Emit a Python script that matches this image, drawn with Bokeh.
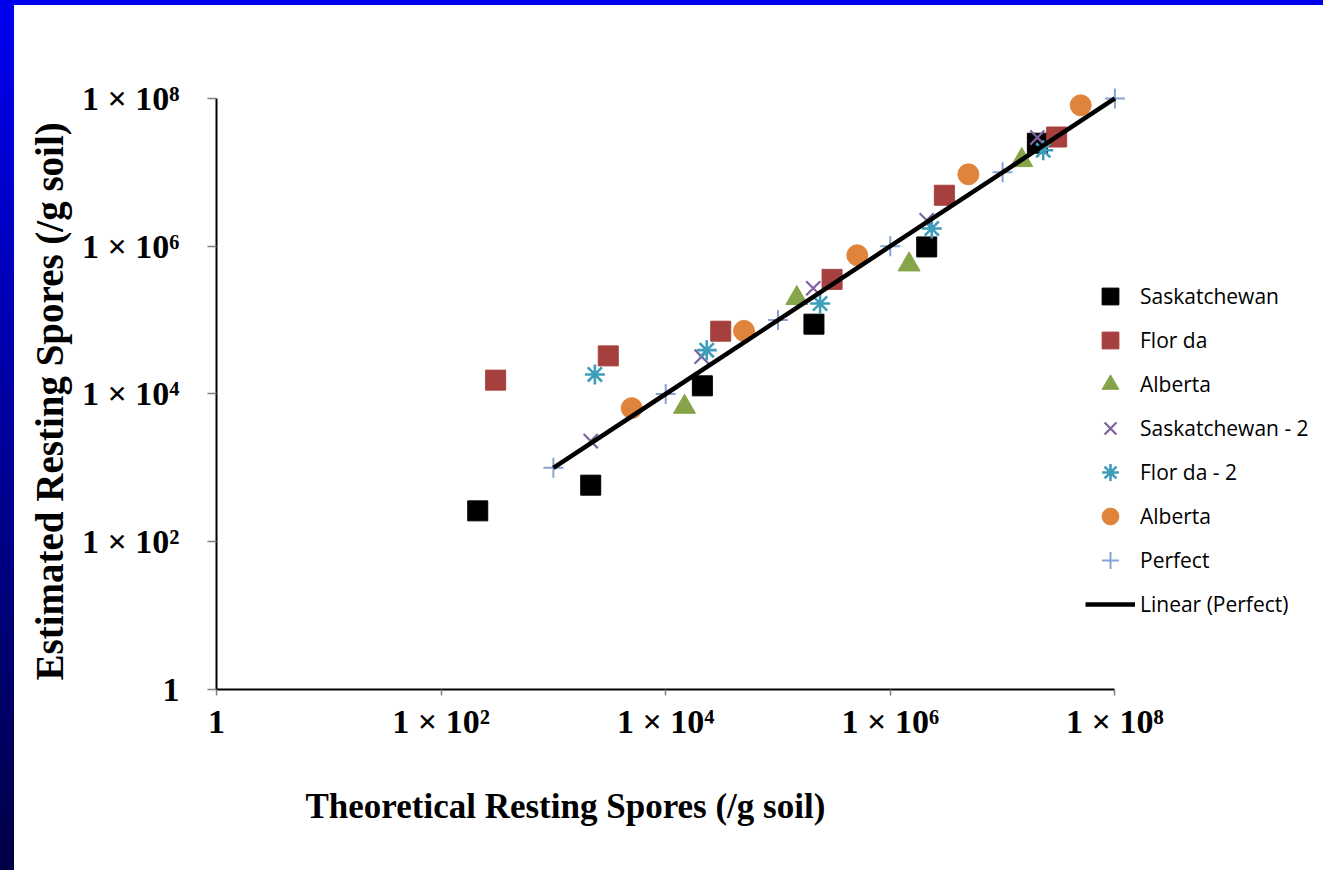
from bokeh.plotting import figure
from bokeh.models import FixedTicker, Legend, LegendItem, Div, Title
from bokeh.layouts import column, row
from bokeh.embed import file_html
from bokeh.resources import INLINE

# ---- data ----
sask_x = [212, 2150, 21200, 209000, 2110000, 20400000]
sask_y = [262, 583, 12900, 88100, 979000, 24800000]

flor_x = [306, 3080, 30900, 303000, 3030000, 30300000]
flor_y = [15400, 32800, 70800, 356000, 4900000, 30100000]

alb_x = [14700, 147000, 1470000, 14800000]
alb_y = [6680, 198000, 565000, 14600000]

sask2_x = [2150, 20900, 206000, 2110000, 20400000]
sask2_y = [2300, 32000, 270000, 2250000, 29600000]

flor2_x = [2340, 23200, 237000, 2340000, 23000000]
flor2_y = [18400, 39200, 168000, 1740000, 19900000]

alb2_x = [4980, 49800, 508000, 4960000, 49600000]
alb2_y = [6430, 71500, 755000, 9420000, 80900000]

perfect_x = [1e3, 1e4, 1e5, 1e6, 1e7, 1e8]
perfect_y = [1e3, 1e4, 1e5, 1e6, 1e7, 1e8]

tick_values = [1, 1e2, 1e4, 1e6, 1e8]
tick_labels = ["1", "1 \u00d7 10\u00b2", "1 \u00d7 10\u2074", "1 \u00d7 10\u2076", "1 \u00d7 10\u2078"]

series_names = ["Saskatchewan", "Flor da", "Alberta", "Saskatchewan - 2",
                "Flor da - 2", "Alberta", "Perfect", "Linear (Perfect)"]

x_title = "Theoretical Resting Spores (/g soil)"
y_title = "Estimated Resting Spores (/g soil)"

SERIF = "Liberation Serif"

# layout geometry (pixels)
FIG_W, FIG_H = 1309, 865
LEFT, BOTTOM = 202, 181
EXTRA_TOP = 20                  # frame extends a little above 1e8 so markers are not clipped
TOP = 93 - EXTRA_TOP
FRAME_W = FIG_W - LEFT          # frame reaches the right edge (room for legend)
DECADE_PX_X = 112.3
DECADE_PX_Y = 73.9
x_end = 10 ** (FRAME_W / DECADE_PX_X)
y_end = 10 ** (8 + EXTRA_TOP / DECADE_PX_Y)

p = figure(width=FIG_W, height=FIG_H, x_axis_type="log", y_axis_type="log",
           x_range=(1, x_end), y_range=(1, y_end),
           output_backend="svg", toolbar_location=None,
           min_border_left=LEFT, min_border_right=0,
           min_border_top=TOP, min_border_bottom=BOTTOM)
p.background_fill_color = "white"
p.border_fill_color = "white"
p.outline_line_color = None
p.grid.visible = False

for ax in (p.xaxis[0], p.yaxis[0]):
    ax.ticker = FixedTicker(ticks=tick_values)
    ax.major_label_overrides = {v: l for v, l in zip(tick_values, tick_labels)}
    ax.minor_tick_line_color = None
    ax.axis_line_color = "black"
    ax.axis_line_width = 2
    ax.major_tick_line_color = "#808080"
    ax.major_tick_line_width = 1.5
    ax.major_tick_in = 0
    ax.major_label_text_font = SERIF
    ax.major_label_text_font_style = "bold"
    ax.major_label_text_font_size = "34px"
    ax.major_label_text_color = "black"
    ax.bounds = (1, 1e8)

p.xaxis[0].major_tick_out = 6
p.xaxis[0].major_label_standoff = 7
p.yaxis[0].major_tick_out = 9
p.yaxis[0].major_label_standoff = 28

r_sask = p.scatter(sask_x, sask_y, marker="square", size=20,
                   fill_color="black", line_color="black")
r_flor = p.scatter(flor_x, flor_y, marker="square", size=20,
                   fill_color="#A5403E", line_color="#A5403E")
r_alb = p.scatter(alb_x, alb_y, marker="triangle", size=22,
                  fill_color="#86A44A", line_color="#86A44A")
r_sask2 = p.scatter(sask2_x, sask2_y, marker="x", size=20, line_width=2.2,
                    line_color="#7E62A0")
r_flor2 = p.scatter(flor2_x, flor2_y, marker="asterisk", size=20, line_width=2.6,
                    line_color="#3E9DB8")
r_alb2 = p.scatter(alb2_x, alb2_y, marker="circle", size=21,
                   fill_color="#E0843C", line_color="#E0843C")
r_perf = p.scatter(perfect_x, perfect_y, marker="cross", size=20, line_width=2,
                   line_color="#85A3D3")
r_lin = p.line(perfect_x, perfect_y, line_color="black", line_width=4.5)

legend = Legend(items=[
    LegendItem(label=series_names[0], renderers=[r_sask]),
    LegendItem(label=series_names[1], renderers=[r_flor]),
    LegendItem(label=series_names[2], renderers=[r_alb]),
    LegendItem(label=series_names[3], renderers=[r_sask2]),
    LegendItem(label=series_names[4], renderers=[r_flor2]),
    LegendItem(label=series_names[5], renderers=[r_alb2]),
    LegendItem(label=series_names[6], renderers=[r_perf]),
    LegendItem(label=series_names[7], renderers=[r_lin]),
], location=(869, 64))
legend.glyph_width = 50
legend.glyph_height = 42
legend.label_height = 42
legend.spacing = 2
legend.padding = 0
legend.margin = 0
legend.label_standoff = 5
legend.border_line_color = None
legend.background_fill_alpha = 0
legend.label_text_font = "Open Sans"
legend.label_text_font_size = "21px"
legend.label_text_color = "black"
p.add_layout(legend, "center")

xt = Title(text=x_title, align="left", offset=89, standoff=85,
           text_font=SERIF, text_font_style="bold", text_font_size="35px",
           text_color="black")
yt = Title(text=y_title, align="left", offset=9, standoff=16,
           text_font=SERIF, text_font_style="bold", text_font_size="39px",
           text_color="black")
p.add_layout(xt, "below")
p.add_layout(yt, "left")

top_band = Div(width=FIG_W + 14, height=5, margin=0,
               styles={"background": "#0000EE"})
left_band = Div(width=14, height=FIG_H, margin=0,
                styles={"background": "linear-gradient(to bottom, #0000F0, #000046)"})
layout = column(top_band, row(left_band, p, spacing=0), spacing=0)

open("out.html", "w").write(file_html(layout, INLINE))
